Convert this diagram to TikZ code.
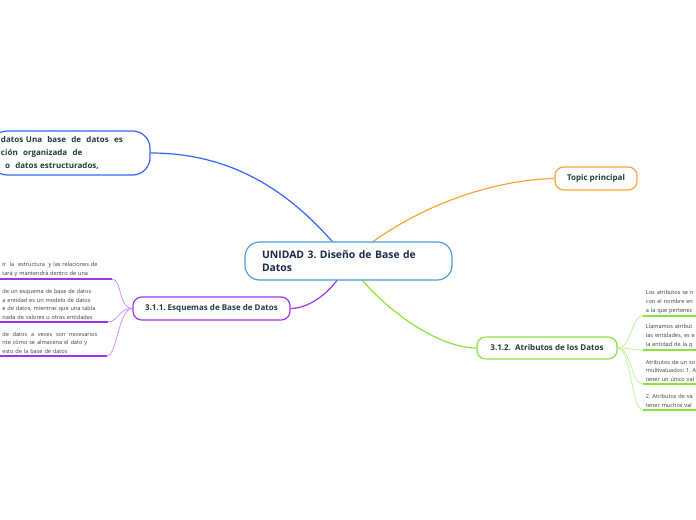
\documentclass[tikz,border=0pt]{standalone}
\usepackage{fontspec}
\setmainfont{Open Sans}
\usepackage{xcolor}
\usetikzlibrary{backgrounds}
\frenchspacing

\definecolor{cenblue}{HTML}{4F9BDC}
\definecolor{datblue}{HTML}{3366F5}
\definecolor{toporange}{HTML}{F8A634}
\definecolor{esqpurple}{HTML}{9E33F2}
\definecolor{esqlight}{HTML}{C98CFA}
\definecolor{atrgreen}{HTML}{8AE33A}
\definecolor{atrlight}{HTML}{BDF08C}
\definecolor{topictext}{HTML}{1E3D3B}
\definecolor{centext}{HTML}{1B2A4A}
\definecolor{leaftext}{HTML}{3A3A3A}

\begin{document}
\begin{tikzpicture}[x=0.75pt,y=-0.75pt,
  topic/.style={draw,line width=0.9pt,fill=white,rounded corners=6.5pt,minimum height=17.25pt,inner sep=0pt,
    font=\fontsize{6}{7.5}\selectfont\bfseries,text=topictext},
  leaf/.style={inner xsep=2pt,inner ysep=1.5pt,align=left,font=\fontsize{4.2}{6.6}\selectfont,text=leaftext},
  link/.style={line width=0.9pt},
  twig/.style={line width=0.55pt},
  under/.style={line width=1.4pt}]
  \useasboundingbox (0,0) rectangle (696,520);
  \clip (0,0) rectangle (696,520);

  \node[topic,draw=cenblue,rounded corners=11pt,minimum width=155.25pt,minimum height=28.5pt,
    inner xsep=12.75pt,text width=129.75pt,align=left,text=centext,
    font=\fontsize{7.8}{9.75}\selectfont\bfseries] (cen) at (348.5,261) {UNIDAD 3. Diseño de Base de\\Datos};
  \node[topic,draw=datblue,rounded corners=13pt,minimum width=120pt,minimum height=33pt,
    inner xsep=8.25pt,text width=103.5pt,align=left,
    font=\fontsize{6}{9.4}\selectfont\bfseries] (dat) at (70,153)
    {datos Una\ \ base\ \ de\ \ datos\ \ es\\ción\ \ organizada\ \ de\\\hspace*{3pt}o\ \ datos estructurados,};
  \node[topic,draw=toporange,minimum width=61.5pt] (top) at (596,178.5) {Topic principal};
  \node[topic,draw=esqpurple,minimum width=117.75pt] (esq) at (211.5,308.5) {3.1.1. Esquemas de Base de Datos};
  \node[topic,draw=atrgreen,minimum width=105pt,minimum height=16.5pt] (atr) at (547,348) {3.1.2.\ \ Atributos de los Datos};

  \node[leaf,anchor=south east,text width=80pt] (e1) at (112,279)
    {ir\ \ la\ \ estructura\ \ y las relaciones de\\tará y mantendrá dentro de una};
  \node[leaf,anchor=south east,text width=77pt] (e2) at (108,322)
    {de un esquema de base de datos\\a entidad es un modelo de datos\\e de datos, mientras que una tabla\\nada de valores u otras entidades};
  \node[leaf,anchor=south east,text width=76.25pt] (e3) at (107,356)
    {de\ \ datos\ \ a\ \ veces\ \ son\ \ necesarios\\nte cómo se almacena el dato y\\esto de la base de datos};

  \node[leaf,anchor=south west,text width=80pt] (a1) at (643,316)
    {Los atributos se n\\con el nombre en\\a la que pertenec};
  \node[leaf,anchor=south west,text width=80pt] (a2) at (643,350)
    {Llamamos atribut\\las entidades, es e\\la entidad de la q};
  \node[leaf,anchor=south west,text width=80pt] (a3) at (643,384)
    {Atributos de un so\\multivaluados: 1. A\\tener un único val};
  \node[leaf,anchor=south west,text width=80pt] (a4) at (643,410)
    {2. Atributos de va\\tener muchos val};

  \foreach \n in {e1,e2,e3}
    \draw[under,esqpurple] (\n.south west) -- (\n.south east);
  \foreach \n in {a1,a2,a3,a4}
    \draw[under,atrgreen] (\n.south west) -- (\n.south east);

  \begin{scope}[on background layer]
    \draw[link,datblue] (cen.center) .. controls +(-48,-61) and +(90,0) .. (dat.east);
    \draw[link,toporange] (cen.center) .. controls +(52,-46) and +(-75,2) .. (top.west);
    \draw[link,esqpurple] (cen.center) .. controls +(-13,29) and +(20,0) .. (esq.east);
    \draw[link,atrgreen] (cen.center) .. controls +(20,35) and +(-45,0) .. (atr.west);
    \foreach \n in {e1,e2,e3}
      \draw[twig,esqlight] (esq.west) .. controls +(-14,0) and +(10,0) .. (\n.south east);
    \foreach \n in {a1,a2,a3,a4}
      \draw[twig,atrlight] (atr.east) .. controls +(14,0) and +(-12,0) .. (\n.south west);
  \end{scope}
\end{tikzpicture}
\end{document}
